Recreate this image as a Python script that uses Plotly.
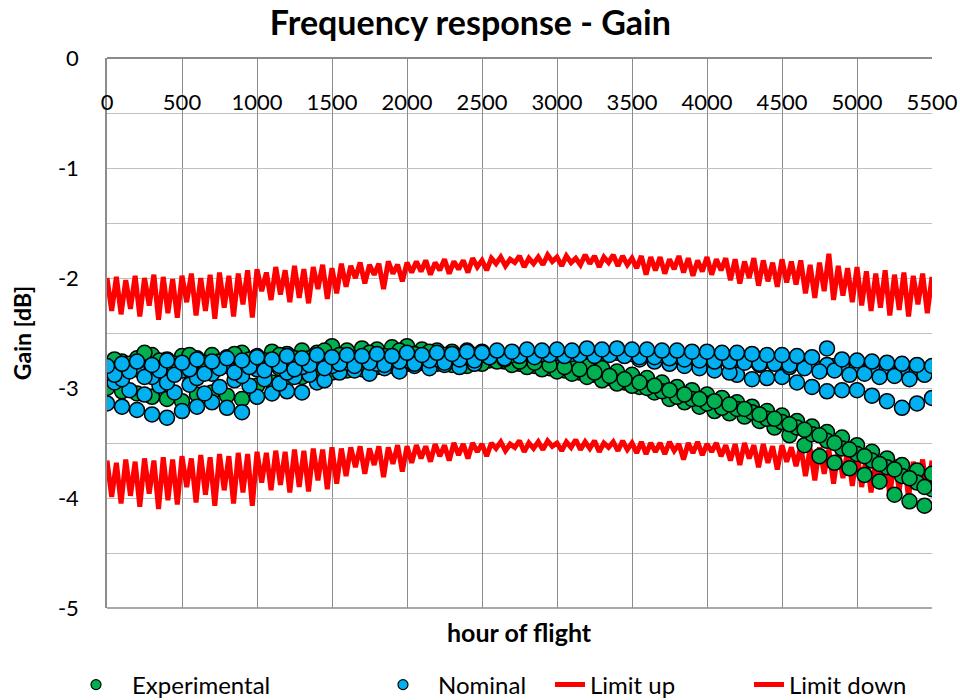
import plotly.graph_objects as go

# ---------------- data ----------------
X_A = [i * 100 for i in range(56)]          # 0 .. 5500 (hours of flight)
X_B = [50 + i * 100 for i in range(55)]     # 50 .. 5450

# Experimental (green) tracks
G1 = [-2.80, -2.76, -2.73, -2.70, -2.74, -2.71, -2.73, -2.70, -2.72, -2.68,
      -2.71, -2.67, -2.69, -2.66, -2.68, -2.62, -2.66, -2.64, -2.65, -2.63,
      -2.62, -2.65, -2.66, -2.67, -2.66, -2.67, -2.69, -2.71, -2.73, -2.74,
      -2.76, -2.78, -2.79, -2.82, -2.85, -2.88, -2.91, -2.95, -2.99, -3.02,
      -3.06, -3.09, -3.13, -3.17, -3.21, -3.25, -3.30, -3.35, -3.40, -3.45,
      -3.52, -3.58, -3.64, -3.70, -3.75, -3.78]
G2 = [-2.85, -2.80, -2.88, -2.83, -2.78, -2.86, -2.80, -2.76, -2.84, -2.79,
      -2.75, -2.82, -2.77, -2.73, -2.78, -2.72, -2.76, -2.71, -2.74, -2.70,
      -2.72, -2.71, -2.73, -2.72, -2.74, -2.75, -2.76, -2.78, -2.80, -2.82,
      -2.84, -2.86, -2.88, -2.91, -2.95, -2.99, -3.04, -3.10, -3.13, -3.17,
      -3.21, -3.23, -3.26, -3.30, -3.36, -3.43, -3.52, -3.62, -3.68, -3.73,
      -3.79, -3.85, -3.97, -4.03, -4.07]
G3 = [-3.00, -3.03, -3.05, -3.08, -3.10, -3.12, -3.06, -3.04, -3.07, -3.10,
      -2.98, -2.95, -2.93, -2.90, -2.88, -2.86, -2.84, -2.83, -2.81, -2.80,
      -2.78, -2.77, -2.78, -2.79, -2.80, -2.78, -2.76, -2.79, -2.81, -2.83,
      -2.85, -2.87, -2.90, -2.93, -2.96, -2.98, -3.00, -3.03, -3.08, -3.10,
      -3.14, -3.18, -3.19, -3.22, -3.28, -3.31, -3.36, -3.42, -3.48, -3.55,
      -3.60, -3.66, -3.72, -3.80, -3.86, -3.92]
G4 = [-2.74, -2.78, -2.68, -2.75, -2.80, -2.70, -2.77, -2.82, -2.69, -2.74,
      -2.78, -2.70, -2.73, -2.76, -2.66, -2.70, -2.73, -2.68, -2.71, -2.66,
      -2.69, -2.67, -2.70, -2.72, -2.70, -2.72, -2.74, -2.76, -2.77, -2.79,
      -2.81, -2.83, -2.86, -2.89, -2.92, -2.95, -2.98, -3.02, -3.06, -3.10,
      -3.12, -3.15, -3.19, -3.24, -3.28, -3.33, -3.38, -3.43, -3.50, -3.56,
      -3.62, -3.69, -3.74, -3.82, -3.90]

# Nominal (blue) tracks
B1 = [-2.80, -2.78, -2.76, -2.79, -2.75, -2.77, -2.74, -2.76, -2.73, -2.75,
      -2.72, -2.74, -2.71, -2.73, -2.70, -2.72, -2.70, -2.71, -2.69, -2.71,
      -2.68, -2.70, -2.68, -2.69, -2.67, -2.68, -2.66, -2.67, -2.65, -2.66,
      -2.65, -2.66, -2.64, -2.65, -2.64, -2.65, -2.65, -2.66, -2.66, -2.67,
      -2.67, -2.68, -2.68, -2.69, -2.70, -2.70, -2.71, -2.72, -2.64, -2.74,
      -2.75, -2.76, -2.77, -2.78, -2.79, -2.80]
B2 = [-2.88, -2.85, -2.90, -2.84, -2.88, -2.83, -2.87, -2.82, -2.86, -2.81,
      -2.84, -2.80, -2.83, -2.79, -2.82, -2.78, -2.80, -2.77, -2.79, -2.76,
      -2.78, -2.75, -2.77, -2.74, -2.75, -2.72, -2.73, -2.71, -2.72, -2.70,
      -2.71, -2.70, -2.71, -2.70, -2.71, -2.72, -2.72, -2.73, -2.74, -2.75,
      -2.76, -2.76, -2.77, -2.78, -2.78, -2.79, -2.82, -2.85, -2.84, -2.88,
      -2.87, -2.90, -2.89, -2.92, -2.88]
B3 = [-3.14, -3.17, -3.20, -3.24, -3.27, -3.21, -3.17, -3.13, -3.18, -3.22,
      -3.08, -3.05, -3.03, -3.04, -2.95, None, None, None, None, None,
      None, None, None, None, None, None, None, None, None, None,
      None, None, None, None, None, None, None, None, None, None,
      None, None, -2.88, -2.92, -2.91, -2.90, -2.95, -2.99, -3.03, -3.02,
      -3.02, -3.07, -3.12, -3.18, -3.14, -3.09]
B4 = [-2.95, -3.02, -3.06, -2.98, -3.04, -2.97, -3.05, -2.99, -2.93, -2.98,
      -2.92, -2.96, -2.90, -2.88, -2.93, -2.86, -2.84, -2.87, -2.82, -2.85,
      -2.80, -2.82, -2.79, -2.81, -2.78, None, None, None, None, None,
      None, None, None, None, None, -2.74, -2.76, -2.78, -2.80, -2.82,
      -2.84, -2.86, -2.76, -2.79, -2.77, -2.81, -2.78, -2.83, -2.80, -2.82,
      -2.80, -2.84, -2.82, -2.86, -2.84]
B5 = [-2.86, -2.92, -2.83, -2.90, -2.95, -2.84, -2.91, -2.87, -2.80, -2.89,
      -2.83, -2.78, -2.86, -2.81, -2.76, -2.80, -2.77, -2.74, -2.78, -2.73,
      -2.75, -2.72, -2.74, -2.71, -2.72, -2.70, -2.69, -2.70, -2.68, -2.69,
      -2.68, -2.69, -2.67, -2.68, -2.68, -2.69, -2.69, -2.70, -2.71, -2.71,
      -2.72, -2.73, -2.73, -2.74, -2.75, -2.76, -2.77, -2.78, -2.79, -2.80,
      -2.81, -2.82, -2.83, -2.84, -2.85]

# Limit lines: alternating upper/lower samples (period 62.5 h)
UP_PEAK = [-2.00, -1.99, -2.02, -1.98, -2.00, -1.97, -1.99, -2.01, -1.98, -1.96,
           -2.00, -1.97, -1.95, -1.98, -1.96, -1.93,
           -1.92, -1.95, -1.90, -1.93, -1.89, -1.92, -1.90, -1.88, -1.91,
           -1.87, -1.89, -1.86, -1.88, -1.87, -1.85, -1.88, -1.86,
           -1.85, -1.84, -1.86, -1.83, -1.85, -1.84, -1.82, -1.84,
           -1.82, -1.81, -1.83, -1.80, -1.82, -1.81, -1.79, -1.81, -1.80, -1.82,
           -1.79, -1.80, -1.81, -1.79, -1.80, -1.82, -1.80, -1.81,
           -1.81, -1.83, -1.80, -1.82, -1.84, -1.81, -1.83, -1.82,
           -1.83, -1.85, -1.82, -1.84, -1.86, -1.83, -1.85, -1.84,
           -1.88, -1.86, -1.78, -1.89, -1.91, -1.90,
           -1.94, -1.96, -1.93, -1.97, -1.95, -1.98, -1.96, -1.99]
UP_DIP = [-2.30, -2.33, -2.28, -2.35, -2.25, -2.38, -2.32, -2.36, -2.22, -2.34,
          -2.30, -2.37, -2.27, -2.35, -2.24, -2.36,
          -2.12, -2.20, -2.15, -2.22, -2.18, -2.23, -2.10, -2.19, -2.14,
          -2.08, -2.00, -2.05, -1.97, -2.10, -1.96, -2.03, -1.95,
          -1.94, -1.97, -1.93, -1.96, -1.92, -1.95, -1.90, -1.93,
          -1.87, -1.89, -1.86, -1.90, -1.87, -1.88, -1.85, -1.89, -1.86, -1.88,
          -1.87, -1.90, -1.86, -1.89, -1.88, -1.91, -1.97,
          -1.93, -1.96, -1.92, -1.95, -1.98, -1.94, -1.97, -1.93,
          -2.02, -2.05, -2.00, -2.07, -2.03, -2.08, -2.04, -2.06,
          -2.14, -2.18, -2.12, -2.20, -2.16, -2.22,
          -2.25, -2.30, -2.27, -2.34, -2.29, -2.35, -2.24, -2.32]
DN_PEAK = [-3.66, -3.68, -3.65, -3.67, -3.64, -3.66, -3.63, -3.65, -3.62, -3.64,
           -3.61, -3.63, -3.60, -3.62, -3.59, -3.60,
           -3.58, -3.59, -3.57, -3.58, -3.56, -3.57, -3.55, -3.56, -3.54,
           -3.55, -3.54, -3.53, -3.55, -3.53, -3.54, -3.52, -3.53,
           -3.52, -3.53, -3.51, -3.52, -3.50, -3.51, -3.50, -3.51,
           -3.50, -3.49, -3.51, -3.48, -3.50, -3.49, -3.48, -3.50, -3.49, -3.47,
           -3.49, -3.48, -3.50, -3.49, -3.48, -3.50, -3.49, -3.50,
           -3.50, -3.49, -3.51, -3.50, -3.49, -3.51, -3.50, -3.52,
           -3.51, -3.50, -3.52, -3.51, -3.53, -3.52, -3.54, -3.53,
           -3.55, -3.54, -3.56, -3.57, -3.56, -3.58,
           -3.62, -3.64, -3.63, -3.65, -3.64, -3.67, -3.65, -3.66]
DN_DIP = [-3.99, -4.05, -3.98, -4.08, -3.96, -4.10, -4.02, -4.06, -3.90, -4.04,
          -3.97, -4.07, -3.93, -4.05, -3.95, -4.07,
          -3.86, -3.93, -3.88, -3.95, -3.90, -3.94, -3.84, -3.92, -3.87,
          -3.80, -3.72, -3.78, -3.70, -3.81, -3.69, -3.76, -3.68,
          -3.64, -3.67, -3.62, -3.66, -3.61, -3.64, -3.58, -3.62,
          -3.55, -3.57, -3.54, -3.58, -3.55, -3.56, -3.53, -3.57, -3.54, -3.56,
          -3.55, -3.58, -3.54, -3.57, -3.56, -3.59, -3.60,
          -3.58, -3.60, -3.57, -3.65, -3.59, -3.61, -3.58, -3.62,
          -3.66, -3.70, -3.64, -3.72, -3.68, -3.74, -3.67, -3.71,
          -3.80, -3.84, -3.78, -3.87, -3.82, -3.89,
          -3.90, -3.95, -3.92, -3.98, -3.93, -4.00, -3.91, -3.97]

X_TICKS = [0, 500, 1000, 1500, 2000, 2500, 3000, 3500, 4000, 4500, 5000, 5500]
Y_TICKS = [0, -1, -2, -3, -4, -5]

# ---------------- build ----------------
def interleave(peaks, dips, period=62.5):
    xs, ys = [], []
    for i, p in enumerate(peaks):
        xs.append(i * period)
        ys.append(p)
        if i < len(dips):
            xs.append(i * period + period / 2)
            ys.append(dips[i])
    return xs, ys

up_x, up_y = interleave(UP_PEAK, UP_DIP)
dn_x, dn_y = interleave(DN_PEAK, DN_DIP)

GREEN = "#00B050"
BLUE = "#00B0F0"
RED = "#FF0000"
FONT = "Lato"

fig = go.Figure()

fig.add_trace(go.Scatter(x=up_x, y=up_y, mode="lines", name="Limit up",
                         line=dict(color=RED, width=5), legend="legend3"))
fig.add_trace(go.Scatter(x=dn_x, y=dn_y, mode="lines", name="Limit down",
                         line=dict(color=RED, width=5), legend="legend4"))

mk_g = dict(color=GREEN, size=15, line=dict(color="black", width=1.5))
mk_b = dict(color=BLUE, size=15, line=dict(color="black", width=1.5))

for xs, ys in [(X_A, G1), (X_B, G2), (X_A, G3), (X_B, G4)]:
    fig.add_trace(go.Scatter(x=xs, y=ys, mode="markers", marker=mk_g,
                             showlegend=False))
for xs, ys in [(X_A, B3), (X_B, B4), (X_A, B5), (X_B, B2), (X_A, B1)]:
    fig.add_trace(go.Scatter(x=xs, y=ys, mode="markers", marker=mk_b,
                             showlegend=False))

fig.add_trace(go.Scatter(x=[None], y=[None], mode="markers", name="Experimental",
                         marker=dict(color=GREEN, size=10, line=dict(color="black", width=1.2)),
                         legend="legend"))
fig.add_trace(go.Scatter(x=[None], y=[None], mode="markers", name="Nominal",
                         marker=dict(color=BLUE, size=10, line=dict(color="black", width=1.2)),
                         legend="legend2"))

LEG_Y = 1 - 685 / 700
def leg(xpx, iw):
    return dict(orientation="h", x=xpx / 960, xref="container", xanchor="left",
                y=LEG_Y, yref="container", yanchor="middle",
                font=dict(family=FONT, size=24, color="black"), itemwidth=iw,
                bgcolor="rgba(0,0,0,0)", borderwidth=0)

fig.update_layout(
    width=960, height=700,
    margin=dict(l=107, r=28, t=58, b=92, autoexpand=False),
    paper_bgcolor="white", plot_bgcolor="white",
    font=dict(family=FONT, size=22, color="black"),
    title=dict(text="<b>Frequency response - Gain</b>", x=0.49, xref="container",
               xanchor="center", y=1 - 23 / 700, yref="container", yanchor="middle",
               font=dict(family=FONT, size=34, color="black")),
    showlegend=True,
    legend=leg(60, 62),
    legend2=leg(368, 60),
    legend3=leg(550, 30),
    legend4=leg(749, 30),
    xaxis=dict(range=[0, 5500], side="bottom", anchor="free", position=1,
               tickmode="array", tickvals=X_TICKS,
               ticktext=[str(v) for v in X_TICKS],
               ticklabelstandoff=25, ticks="", ticklabeloverflow="allow",
               showgrid=True, gridcolor="#8c8c8c", gridwidth=1,
               showline=True, linecolor="#8c8c8c", linewidth=1.5,
               zeroline=False, tickfont=dict(size=22)),
    yaxis=dict(range=[-5, 0], tickmode="array", tickvals=Y_TICKS,
               ticktext=[str(v) for v in Y_TICKS], ticks="",
               ticklabelstandoff=22, ticklabeloverflow="allow",
               showgrid=True, gridcolor="#c0c0c0", gridwidth=1,
               minor=dict(dtick=0.5, tick0=0, showgrid=True, gridcolor="#c0c0c0", gridwidth=1),
               showline=True, linecolor="#8c8c8c", linewidth=1.5,
               zeroline=False, tickfont=dict(size=22),
               title=dict(text="<b>Gain [dB]</b>", font=dict(size=23), standoff=20)),
    annotations=[dict(text="<b>hour of flight</b>", xref="paper", yref="paper",
                      x=0.5, y=-(632 - 608) / 550, xanchor="center", yanchor="middle",
                      showarrow=False, font=dict(family=FONT, size=25, color="black"))],
    shapes=[dict(type="line", xref="paper", yref="paper", x0=0, x1=1, y0=0, y1=0,
                 line=dict(color="#8c8c8c", width=1.5))],
)

fig.write_html("out.html")
